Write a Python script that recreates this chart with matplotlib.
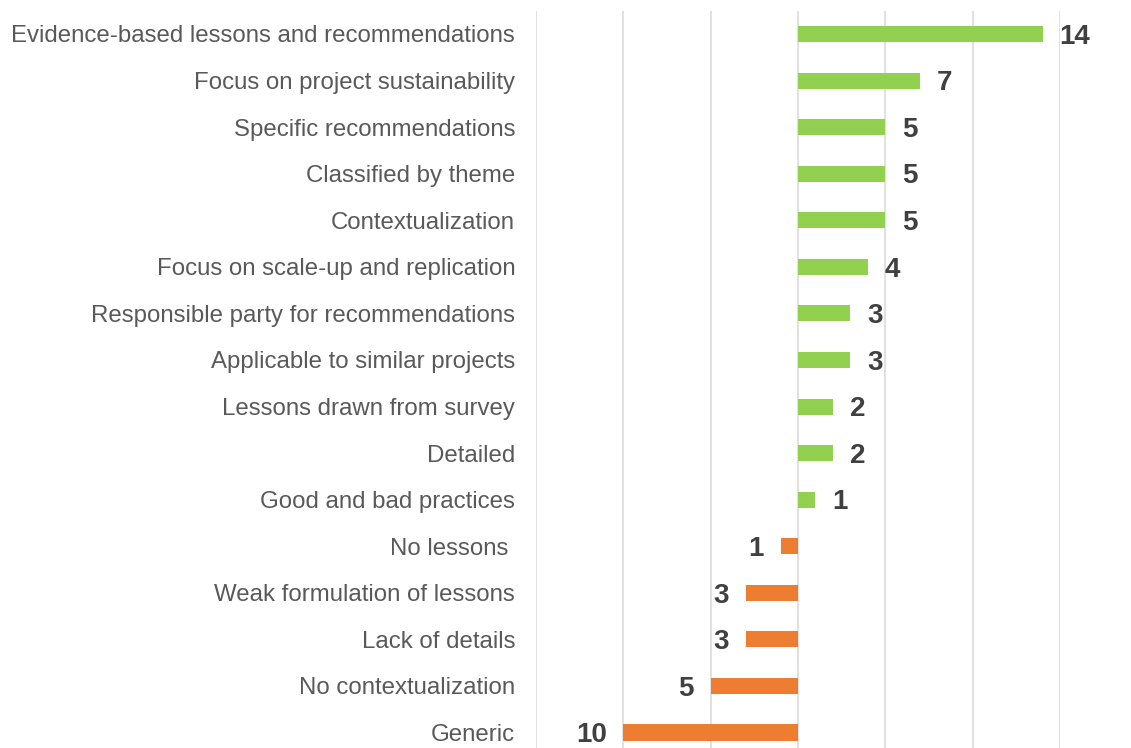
import matplotlib.pyplot as plt

plt.rcParams['font.family'] = ['Liberation Sans', 'DejaVu Sans']

# categories top to bottom
categories = [
    "Evidence-based lessons and recommendations",
    "Focus on project sustainability",
    "Specific recommendations",
    "Classified by theme",
    "Contextualization",
    "Focus on scale-up and replication",
    "Responsible party for recommendations",
    "Applicable to similar projects",
    "Lessons drawn from survey",
    "Detailed",
    "Good and bad practices",
    "No lessons ",
    "Weak formulation of lessons",
    "Lack of details",
    "No contextualization",
    "Generic",
]
values = [14, 7, 5, 5, 5, 4, 3, 3, 2, 2, 1, -1, -3, -3, -5, -10]

green = "#92D050"
orange = "#ED7D31"
colors = [green if v > 0 else orange for v in values]

fig = plt.figure(figsize=(11.31, 7.48), dpi=100)
ax = fig.add_axes([0.4739, -0.0104, 0.4633, 0.9961])

y = list(range(len(categories)))
ax.barh(y, values, height=0.344, color=colors, zorder=3)

ax.set_xlim(-15, 15)
ax.set_ylim(len(categories) - 0.5, -0.5)
ax.set_xticks([-15, -10, -5, 0, 5, 10, 15])
ax.set_xticklabels([])
ax.tick_params(axis='x', length=0)
ax.grid(axis='x', color="#D9D9D9", linewidth=1.1, zorder=0)

ax.set_yticks(y)
ax.set_yticklabels(categories, fontsize=17.3, color="#595959")
ax.tick_params(axis='y', length=0, pad=15)

for s in ax.spines.values():
    s.set_visible(False)

# value labels: positives right of bar, negatives left, shown without sign
for yi, v in zip(y, values):
    if v > 0:
        ax.annotate(str(v), (v, yi), xytext=(12, -2), textcoords='offset points',
                    ha='left', va='center', fontsize=20, fontweight='bold', color="#404040")
    else:
        ax.annotate(str(abs(v)), (v, yi), xytext=(-12, -2), textcoords='offset points',
                    ha='right', va='center', fontsize=20, fontweight='bold', color="#404040")

fig.savefig("out.png", dpi=100)
